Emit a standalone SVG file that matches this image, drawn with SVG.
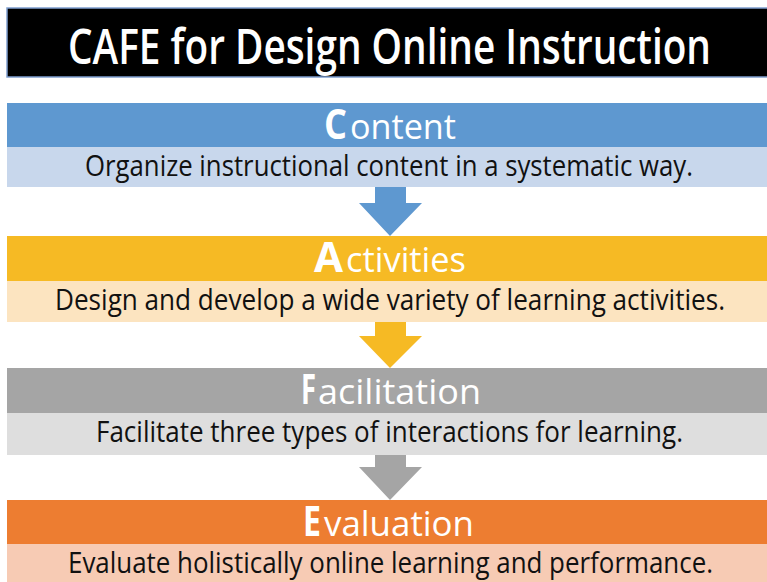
<svg xmlns="http://www.w3.org/2000/svg" width="767" height="582" viewBox="0 0 767 582">
<style>
.title{font-family:"Open Sans","Liberation Sans",sans-serif;font-weight:600;font-size:48px;fill:#ffffff}
.big{font-family:"Open Sans","Liberation Sans",sans-serif;font-weight:700;font-size:42px;fill:#ffffff}
.rest{font-family:"Open Sans","Liberation Sans",sans-serif;font-weight:400;font-size:34px;fill:#ffffff}
.sub{font-family:"Open Sans","Liberation Sans",sans-serif;font-weight:400;font-size:29px;fill:#111111}
</style>
<rect width="767" height="582" fill="#ffffff"/>
<g id="title">
<rect x="7" y="8" width="762" height="69" fill="#000000" stroke="#7f9fd0" stroke-width="1.5"/>
<text class="title" x="68" y="64" textLength="643" lengthAdjust="spacingAndGlyphs">CAFE for Design Online Instruction</text>
</g>
<g id="content">
<rect x="7" y="103" width="760" height="44" fill="#5e98d0"/>
<rect x="7" y="147" width="760" height="40" fill="#c8d7ec"/>
<text class="big" x="324" y="139" textLength="23" lengthAdjust="spacingAndGlyphs">C</text>
<text class="rest" x="350" y="139" textLength="106" lengthAdjust="spacingAndGlyphs">ontent</text>
<text class="sub" x="85" y="176" textLength="608" lengthAdjust="spacingAndGlyphs">Organize instructional content in a systematic way.</text>
</g>
<g id="activities">
<rect x="7" y="236" width="760" height="45" fill="#f6ba24"/>
<rect x="7" y="281" width="760" height="41" fill="#fce4c0"/>
<text class="big" x="314" y="272" textLength="29" lengthAdjust="spacingAndGlyphs">A</text>
<text class="rest" x="346" y="272" textLength="120" lengthAdjust="spacingAndGlyphs">ctivities</text>
<text class="sub" x="55" y="310" textLength="670" lengthAdjust="spacingAndGlyphs">Design and develop a wide variety of learning activities.</text>
</g>
<g id="facilitation">
<rect x="7" y="368" width="760" height="45" fill="#a5a5a5"/>
<rect x="7" y="413" width="760" height="42" fill="#dedede"/>
<text class="big" x="301" y="404" textLength="15" lengthAdjust="spacingAndGlyphs">F</text>
<text class="rest" x="318" y="404" textLength="163" lengthAdjust="spacingAndGlyphs">acilitation</text>
<text class="sub" x="96" y="442" textLength="587" lengthAdjust="spacingAndGlyphs">Facilitate three types of interactions for learning.</text>
</g>
<g id="evaluation">
<rect x="7" y="500" width="760" height="44" fill="#ed7d31"/>
<rect x="7" y="544" width="760" height="38" fill="#f7cbb4"/>
<text class="big" x="303" y="536" textLength="18" lengthAdjust="spacingAndGlyphs">E</text>
<text class="rest" x="324" y="536" textLength="150" lengthAdjust="spacingAndGlyphs">valuation</text>
<text class="sub" x="68" y="573" textLength="645" lengthAdjust="spacingAndGlyphs">Evaluate holistically online learning and performance.</text>
</g>
<g id="connectors">
<polygon points="375,187 406,187 406,203 422,203 390,236 359,203 375,203" fill="#5e98d0"/>
<polygon points="375,322 406,322 406,336 422,336 390,368 359,336 375,336" fill="#f6ba24"/>
<polygon points="375,455 406,455 406,467 422,467 390,500 359,467 375,467" fill="#a5a5a5"/>
</g>
</svg>
